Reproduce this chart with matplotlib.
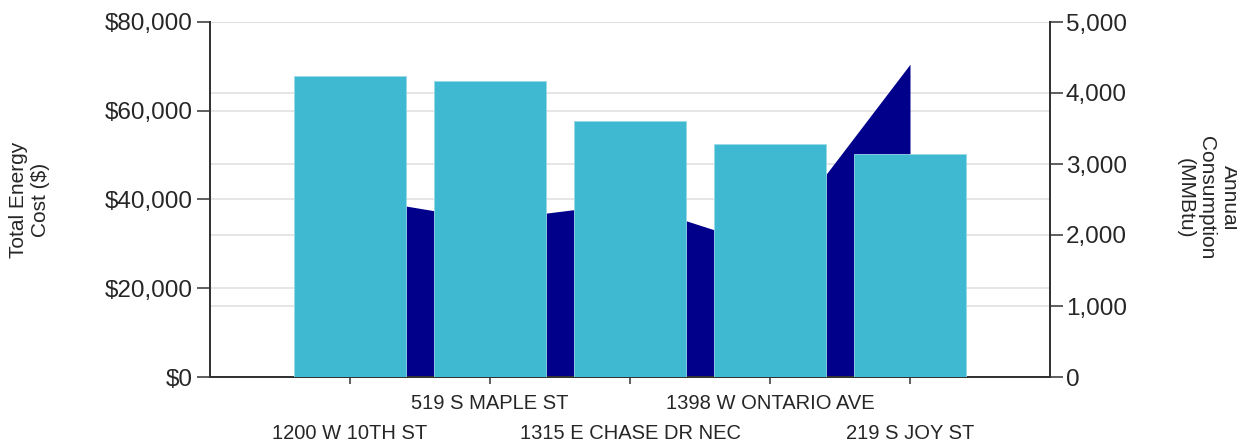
import numpy as np
import matplotlib
matplotlib.use("Agg")
import matplotlib.pyplot as plt
from matplotlib.ticker import FuncFormatter, MultipleLocator

# ---- data ----
buildings = ["1200 W 10TH ST", "519 S MAPLE ST", "1315 E CHASE DR NEC",
             "1398 W ONTARIO AVE", "219 S JOY ST"]
energy_cost = [67800, 66600, 57600, 52600, 50200]       # $ (left axis)
consumption = [2540, 2210, 2455, 1820, 4406]            # MMBtu (right axis)

cost_max = 80000
cons_max = 5000

bar_color = "#3FB9D2"
area_color = "#00008B"
text_color = "#262626"
grid_color = "#dedede"

plt.rcParams["font.family"] = ["Liberation Sans", "DejaVu Sans"]

fig = plt.figure(figsize=(12.37, 4.43), dpi=100)
ax = fig.add_axes([210 / 1237, 1 - 377 / 443, 840 / 1237, 355 / 443])
ax2 = ax.twinx()

x = np.arange(len(buildings))

# area (right axis) sits behind the bars
ax2.fill_between(x, 0, consumption, color=area_color, linewidth=0, zorder=2)
ax2.set_ylim(0, cons_max)
ax2.yaxis.set_major_locator(MultipleLocator(1000))
ax2.yaxis.set_major_formatter(FuncFormatter(lambda v, p: f"{v:,.0f}"))
ax2.grid(axis="y", color=grid_color, linewidth=1.1)
ax2.set_axisbelow(True)
# left-axis gridlines drawn on the back axes so they stay under the area
for v in range(20000, cost_max + 1, 20000):
    ax2.axhline(v / cost_max * cons_max, color=grid_color, linewidth=1.1,
                zorder=0.5)

# bars on the left axis, drawn on top
ax.set_zorder(ax2.get_zorder() + 1)
ax.patch.set_visible(False)
ax.bar(x, energy_cost, width=0.8, color=bar_color, edgecolor="#9ad9e8",
       linewidth=0.6, zorder=3)
ax.set_ylim(0, cost_max)
ax.set_xlim(-1, 5)
ax.yaxis.set_major_locator(MultipleLocator(20000))
ax.yaxis.set_major_formatter(FuncFormatter(lambda v, p: f"${v:,.0f}"))

# staggered category labels: even ones on the lower row, odd on the upper
ax.set_xticks(x[::2], buildings[::2])
ax.set_xticks(x[1::2], buildings[1::2], minor=True)

for a in (ax, ax2):
    a.spines["top"].set_visible(False)
    for s in ("left", "right", "bottom"):
        a.spines[s].set_color("#333333")
        a.spines[s].set_linewidth(1.4)

ax.tick_params(axis="y", length=9.5, width=1.1, pad=3, labelsize=17.5,
               colors="#333333", labelcolor=text_color)
ax2.tick_params(axis="y", length=9.5, width=1.1, pad=2, labelsize=17.5,
                colors="#333333", labelcolor=text_color)
ax.tick_params(axis="x", which="major", length=5, width=1.1, pad=28.5,
               labelsize=14.5, colors="#333333", labelcolor=text_color)
ax.tick_params(axis="x", which="minor", length=5, width=1.1, pad=7.5,
               labelsize=14.5, colors="#333333", labelcolor=text_color)

fig.text(30 / 1237, 1 - 200 / 443, "Total Energy\nCost ($)", rotation=90,
         ha="center", va="center", multialignment="center",
         fontsize=15, color=text_color)
fig.text(1207 / 1237, 1 - 198 / 443, "Annual\nConsumption\n(MMBtu)",
         rotation=270, ha="center", va="center", multialignment="center",
         fontsize=15, color=text_color)

fig.savefig("out.png", dpi=100)
